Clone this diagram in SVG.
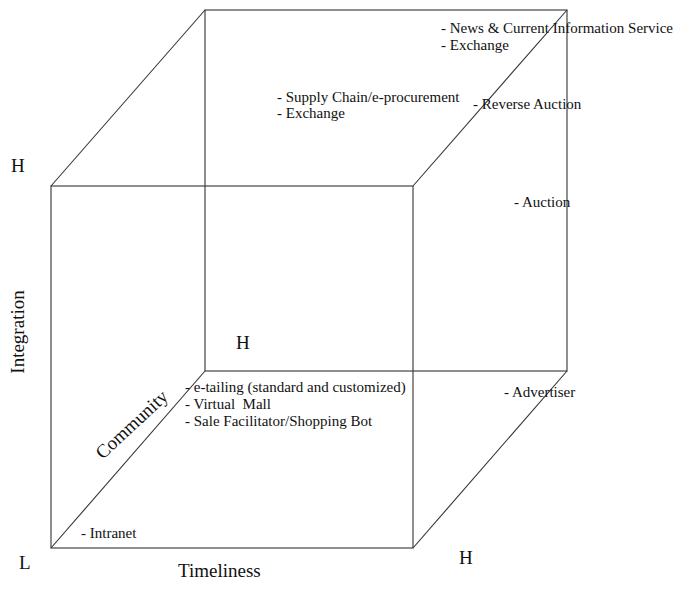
<svg xmlns="http://www.w3.org/2000/svg" width="677" height="598" viewBox="0 0 677 598">
<style>
.e{stroke:#333;stroke-width:1.1;fill:none}
.t{font-family:"Liberation Serif","Times New Roman",serif;font-size:15px;fill:#111}
.a{font-family:"Liberation Serif","Times New Roman",serif;font-size:19px;fill:#111}
</style>
<rect width="677" height="598" fill="#fff"/>
<g id="cube">
<rect class="e" x="205" y="10" width="362" height="361"/>
<rect class="e" x="51" y="186" width="362" height="362"/>
<line class="e" x1="51" y1="186" x2="205" y2="10"/>
<line class="e" x1="413" y1="186" x2="567" y2="10"/>
<line class="e" x1="51" y1="548" x2="205" y2="371"/>
<line class="e" x1="413" y1="548" x2="567" y2="371"/>
</g>
<g id="axes">
<text class="a" x="11" y="172">H</text>
<text class="a" x="19" y="569">L</text>
<text class="a" x="459" y="564">H</text>
<text class="a" x="236" y="349">H</text>
<text class="a" x="178" y="577">Timeliness</text>
<text class="a" text-anchor="middle" transform="translate(24,332) rotate(-90)">Integration</text>
<text class="a" text-anchor="middle" transform="translate(136,429) rotate(-43)">Community</text>
</g>
<g id="labels">
<text class="t" x="441" y="33">- News &amp; Current Information Service</text>
<text class="t" x="441" y="50">- Exchange</text>
<text class="t" x="277" y="102">- Supply Chain/e-procurement</text>
<text class="t" x="277" y="118">- Exchange</text>
<text class="t" x="473" y="109">- Reverse Auction</text>
<text class="t" x="514" y="207">- Auction</text>
<text class="t" x="504" y="397">- Advertiser</text>
<text class="t" x="185" y="392">- e-tailing (standard and customized)</text>
<text class="t" x="185" y="409" xml:space="preserve">- Virtual  Mall</text>
<text class="t" x="185" y="426">- Sale Facilitator/Shopping Bot</text>
<text class="t" x="81" y="538">- Intranet</text>
</g>
</svg>
